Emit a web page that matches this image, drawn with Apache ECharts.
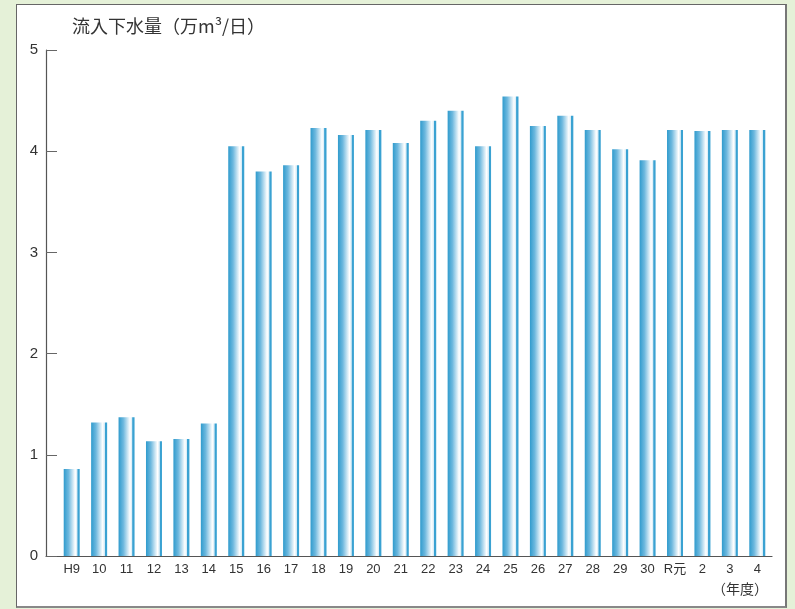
<!DOCTYPE html>
<html>
<head>
<meta charset="utf-8">
<script src="https://cdn.jsdelivr.net/npm/echarts@6/dist/echarts.min.js"></script>
<style>
  html, body {
    margin: 0;
    padding: 0;
    background: #e5f1d8;
  }
  .panel {
    position: absolute;
    left: 16px;
    top: 4px;
    width: 768px;
    height: 601px;
    background: #fff;
    border: 1px solid #666;
    border-right: 2px solid #777;
    border-bottom: 2px solid #888;
  }
  #chart {
    position: absolute;
    left: 0;
    top: 0;
    width: 795px;
    height: 609px;
  }
</style>
</head>
<body>
<div class="panel"></div>
<div id="chart"></div>
<script>
// 年度
const years = ['H9', '10', '11', '12', '13', '14', '15', '16', '17', '18', '19', '20', '21',
  '22', '23', '24', '25', '26', '27', '28', '29', '30', 'R元', '2', '3', '4']
// 流入下水量 (万m3/日)
const inflow = [0.86, 1.32, 1.37, 1.135, 1.155, 1.31, 4.05, 3.80, 3.86, 4.23, 4.16, 4.21, 4.08,
  4.30, 4.40, 4.05, 4.54, 4.25, 4.35, 4.21, 4.02, 3.91, 4.21, 4.20, 4.21, 4.21]
const yTicks = [0, 1, 2, 3, 4, 5]

const font = '"Liberation Sans", "Noto Sans CJK JP", sans-serif'
const cjkFont = '"Noto Sans CJK JP", sans-serif'
const barColor = new echarts.graphic.LinearGradient(0, 0, 1, 0, [
  { offset: 0, color: '#2f9bcd' },
  { offset: 0.3, color: '#6db8de' },
  { offset: 0.72, color: '#ffffff' },
  { offset: 0.84, color: '#d6ebf6' },
  { offset: 0.88, color: '#3aa2d2' },
  { offset: 1, color: '#3aa2d2' }
])

let chart = echarts.init(document.getElementById('chart'))
chart.setOption({
  animation: false,
  textStyle: { fontFamily: font },
  grid: [
    { left: 58, right: 24, top: 50, bottom: 53 },
    { left: 46, right: 23, top: 50, bottom: 53 }
  ],
  graphic: [
    {
      type: 'text',
      left: 72,
      top: 17,
      style: { text: '流入下水量（万m³/日）', fontSize: 18, fill: '#333', fontFamily: cjkFont }
    },
    {
      type: 'text',
      right: 27,
      top: 582,
      style: { text: '（年度）', fontSize: 14, fill: '#333', fontFamily: cjkFont }
    }
  ],
  xAxis: [
    {
      type: 'category',
      gridIndex: 0,
      data: years,
      axisLine: { show: false },
      axisTick: { show: false },
      axisLabel: { color: '#333', fontSize: 13, margin: 7, interval: 0 }
    },
    {
      type: 'value',
      gridIndex: 1,
      min: 0,
      max: 1,
      axisLine: { show: true, lineStyle: { color: '#555', width: 1.2 } },
      axisTick: { show: false },
      axisLabel: { show: false },
      splitLine: { show: false }
    }
  ],
  yAxis: [
    {
      type: 'value',
      gridIndex: 0,
      min: 0,
      max: 5,
      interval: 1,
      show: false
    },
    {
      type: 'value',
      gridIndex: 1,
      min: yTicks[0],
      max: yTicks[yTicks.length - 1],
      interval: 1,
      axisLine: { show: true, lineStyle: { color: '#555', width: 1.2 } },
      axisTick: { show: true, inside: true, length: 11, lineStyle: { color: '#666' } },
      axisLabel: { color: '#333', fontSize: 15, margin: 8 },
      splitLine: { show: false }
    }
  ],
  series: [
    {
      type: 'bar',
      xAxisIndex: 0,
      yAxisIndex: 0,
      barWidth: 16,
      data: inflow,
      itemStyle: { color: barColor }
    }
  ]
})
</script>
</body>
</html>
